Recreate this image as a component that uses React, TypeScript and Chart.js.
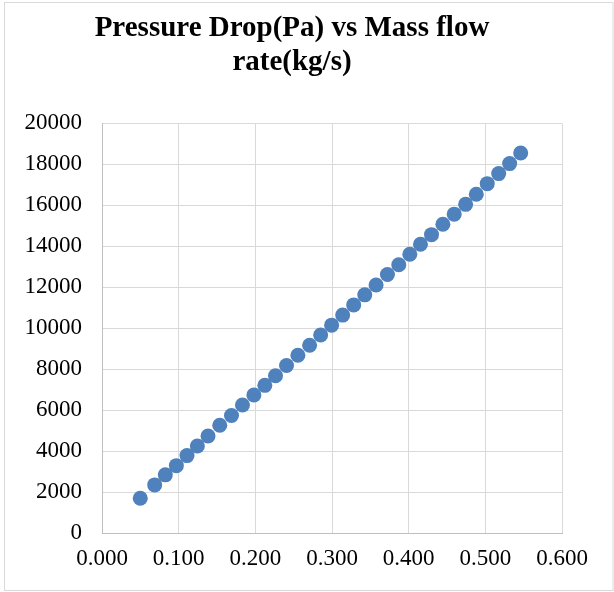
import React, { useEffect, useRef } from 'react';
import { Chart, registerables } from 'chart.js';

Chart.register(...registerables);

const titleLines = ['Pressure Drop(Pa) vs Mass flow', 'rate(kg/s)'];

const massFlow = [
  0.0499, 0.0687, 0.0826, 0.097, 0.1109, 0.1244, 0.1383, 0.1536, 0.1689, 0.1832,
  0.1981, 0.2124, 0.2263, 0.2407, 0.2555, 0.2708, 0.2852, 0.2995, 0.3139, 0.3283,
  0.3427, 0.3575, 0.3723, 0.3871, 0.4015, 0.4154, 0.4298, 0.4446, 0.4594, 0.4743,
  0.4882, 0.5025, 0.5174, 0.5317, 0.5461,
];

const pressureDrop = [
  1700, 2350, 2840, 3290, 3780, 4250, 4740, 5260, 5740, 6250,
  6740, 7210, 7680, 8180, 8680, 9170, 9670, 10150, 10640, 11140,
  11630, 12110, 12620, 13100, 13610, 14100, 14570, 15080, 15570, 16050,
  16540, 17060, 17550, 18040, 18560,
];

const xMin = 0;
const xMax = 0.6;
const xStep = 0.1;
const yMin = 0;
const yMax = 20000;
const yStep = 2000;

const FONT = '"Liberation Serif", "Times New Roman", serif';

const frame = {
  id: 'frame',
  beforeDraw(chart: any) {
    const { ctx } = chart;
    ctx.save();
    ctx.fillStyle = '#ffffff';
    ctx.fillRect(0, 0, chart.width, chart.height);
    ctx.strokeStyle = '#d9d9d9';
    ctx.lineWidth = 1;
    ctx.strokeRect(4.5, 2.5, 608.5, 588);
    ctx.restore();
  },
};

export default function App() {
  const ref = useRef<HTMLCanvasElement | null>(null);

  useEffect(() => {
    if (!ref.current) return;
    const points = massFlow.map((x, i) => ({ x, y: pressureDrop[i] }));
    const chart = new Chart(ref.current, {
      type: 'scatter',
      data: {
        datasets: [
          {
            label: 'Pressure Drop',
            data: points,
            backgroundColor: '#4f81bd',
            borderColor: '#4f81bd',
            borderWidth: 0,
            pointRadius: 7.5,
            pointHoverRadius: 7.5,
          },
        ],
      },
      options: {
        responsive: false,
        animation: false,
        devicePixelRatio: 1,
        layout: { padding: { left: 22, right: 52, top: 11, bottom: 0 } },
        plugins: {
          legend: { display: false },
          tooltip: { enabled: false },
          title: {
            display: true,
            text: titleLines,
            color: '#000000',
            font: { family: FONT, size: 29, weight: 'bold', lineHeight: 1.18 },
            padding: { top: 0, bottom: 44 },
          },
        },
        scales: {
          x: {
            type: 'linear',
            min: xMin,
            max: xMax,
            grid: { color: '#d9d9d9', lineWidth: 1, drawTicks: false },
            border: { color: '#bfbfbf', width: 1 },
            ticks: {
              stepSize: xStep,
              color: '#000000',
              font: { family: FONT, size: 23 },
              padding: 12,
              maxRotation: 0,
              callback: (v: any) => Number(v).toFixed(3),
            },
            afterFit(scale: any) {
              scale.height = 59;
            },
          },
          y: {
            type: 'linear',
            min: yMin,
            max: yMax,
            grid: { color: '#d9d9d9', lineWidth: 1, drawTicks: false },
            border: { color: '#bfbfbf', width: 1 },
            ticks: {
              stepSize: yStep,
              color: '#000000',
              font: { family: FONT, size: 23 },
              padding: 20,
              callback: (v: any) => String(v),
            },
            afterFit(scale: any) {
              scale.width = 80;
            },
          },
        },
      },
      plugins: [frame],
    });
    return () => chart.destroy();
  }, []);

  return (
    <div style={{ position: 'fixed', left: 0, top: 0, width: 614, height: 592 }}>
      <canvas ref={ref} width={614} height={592} style={{ display: 'block' }} />
    </div>
  );
}
